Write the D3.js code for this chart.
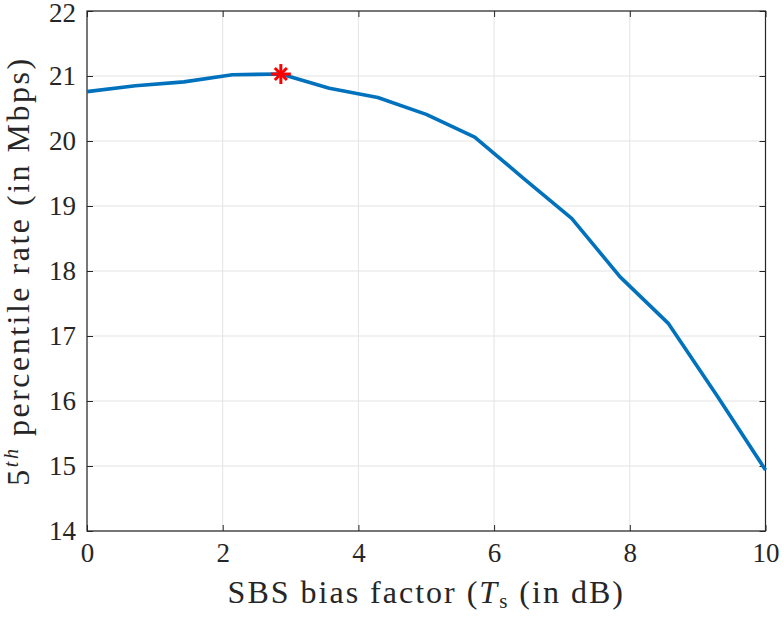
<!DOCTYPE html>
<html><head><meta charset="utf-8">
<script src="https://cdn.jsdelivr.net/npm/d3@7"></script>
<style>body{margin:0;background:#fff}svg{display:block}</style>
</head><body><svg id="c" width="784" height="617"></svg>
<script>
const biasDb = [0, 0.714, 1.429, 2.143, 2.857, 3.571, 4.286, 5.0, 5.714, 6.429, 7.143, 7.857, 8.571, 9.286, 10];
const rate5th = [20.76, 20.85, 20.91, 21.02, 21.03, 20.81, 20.67, 20.41, 20.06, 19.43, 18.81, 17.91, 17.19, 16.08, 14.94];
const bestIdx = 4;
const xTicks = [0, 2, 4, 6, 8, 10];
const yTicks = [14, 15, 16, 17, 18, 19, 20, 21, 22];

const FONT = '"Liberation Serif", "Times New Roman", Times, Tinos, "DejaVu Serif", "Noto Serif", serif';
const svg = d3.select("#c");
const L = 87, R = 765.5, T = 11, B = 531;
const x = d3.scaleLinear().domain([0, 10]).range([L, R]);
const y = d3.scaleLinear().domain([14, 22]).range([B, T]);

// grid
svg.append("g").selectAll("line").data(xTicks).join("line")
  .attr("x1", d => x(d)).attr("x2", d => x(d)).attr("y1", T).attr("y2", B)
  .attr("stroke", "#e3e3e3").attr("stroke-width", 1);
svg.append("g").selectAll("line").data(yTicks).join("line")
  .attr("y1", d => y(d)).attr("y2", d => y(d)).attr("x1", L).attr("x2", R)
  .attr("stroke", "#e3e3e3").attr("stroke-width", 1);

// axes
const tk = 6;
const xb = d3.axisBottom(x).tickValues(xTicks).tickSize(-tk).tickPadding(12).tickFormat(d3.format("d"));
const xt = d3.axisTop(x).tickValues(xTicks).tickSize(-tk).tickFormat("");
const yl = d3.axisLeft(y).tickValues(yTicks).tickSize(-tk).tickPadding(11).tickFormat(d3.format("d"));
const yr = d3.axisRight(y).tickValues(yTicks).tickSize(-tk).tickFormat("");
function style(g){ g.attr("font-family", FONT).attr("font-size", 27);
  g.select(".domain").remove(); g.selectAll("line").attr("stroke","#262626").attr("stroke-width",1);
  g.selectAll("text").attr("font-family", FONT).attr("font-size", 27).attr("fill","#262626"); }
svg.append("g").attr("transform",`translate(0,${B})`).call(xb).call(style);
svg.append("g").attr("transform",`translate(0,${T})`).call(xt).call(style);
const ylg = svg.append("g").attr("transform",`translate(${L},0)`).call(yl).call(style);
ylg.selectAll(".tick text").filter(d => d === 22).attr("dy", "0.4em");
svg.append("g").attr("transform",`translate(${R},0)`).call(yr).call(style);
svg.append("rect").attr("x",L).attr("y",T).attr("width",R-L).attr("height",B-T)
  .attr("fill","none").attr("stroke","#262626").attr("stroke-width",1.2);

// line
const line = d3.line().x((d,i)=>x(biasDb[i])).y(d=>y(d));
svg.append("path").datum(rate5th).attr("d", line).attr("fill","none")
  .attr("stroke","#0072BD").attr("stroke-width",3.6).attr("stroke-linejoin","round");

// star marker
const sx = x(biasDb[bestIdx]), sy = y(rate5th[bestIdx]), r = 10;
const star = svg.append("g").attr("stroke","#ff0000").attr("stroke-width",3);
[0,45,90,135].forEach(a=>{ const t=a*Math.PI/180; const rr = (a%90===0)? r : r*0.85;
  star.append("line").attr("x1",sx-rr*Math.sin(t)).attr("y1",sy-rr*Math.cos(t))
    .attr("x2",sx+rr*Math.sin(t)).attr("y2",sy+rr*Math.cos(t)); });

// labels
const xl = svg.append("text").attr("x",(L+R)/2).attr("y",603).attr("text-anchor","middle")
  .attr("font-family", FONT).attr("font-size", 32).attr("letter-spacing", 2).attr("fill","#262626");
xl.append("tspan").text("SBS bias factor (");
xl.append("tspan").attr("font-style","italic").text("T");
xl.append("tspan").attr("dy",5).attr("font-size", 21).text("s");
xl.append("tspan").attr("dy",-5).text(" (in dB)");

const ylab = svg.append("text").attr("transform",`translate(29,${(T+B)/2}) rotate(-90)`).attr("text-anchor","middle")
  .attr("font-family", FONT).attr("font-size", 32).attr("letter-spacing", 2.5).attr("fill","#262626");
ylab.append("tspan").text("5");
ylab.append("tspan").attr("dy",-11).attr("font-style","italic").attr("font-size", 20).text("th");
ylab.append("tspan").attr("dy",11).text(" percentile rate (in Mbps)");
</script></body></html>
